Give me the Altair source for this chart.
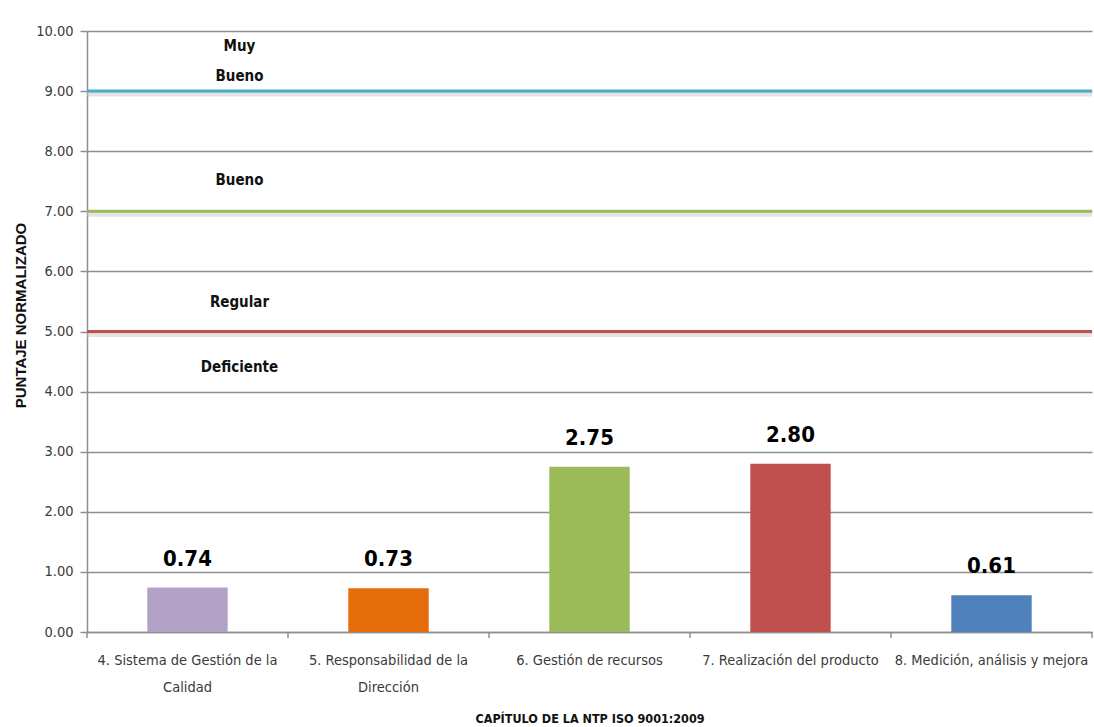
import altair as alt
import pandas as pd

# Chapters of NTP ISO 9001:2009 and their normalized scores
chapters = [
    "4. Sistema de Gestión de la\nCalidad",
    "5. Responsabilidad de la\nDirección",
    "6. Gestión de recursos",
    "7. Realización del producto",
    "8. Medición, análisis y mejora",
]
scores = [0.74, 0.73, 2.75, 2.80, 0.61]
bar_colors = ["#B3A2C7", "#E46C0A", "#9BBB59", "#C0504D", "#4F81BD"]

# Rating thresholds drawn as horizontal lines
level_values = [9.0, 7.0, 5.0]
level_colors = ["#4BACC6", "#9BBB59", "#C0504D"]

# Rating band names and the score at which each name (first line) sits
band_names = ["Muy\nBueno", "Bueno", "Regular", "Deficiente"]
band_label_y = [9.75, 7.52, 5.49, 4.41]

W, H = 1005, 601
FONT = "DejaVu Sans Condensed, Roboto, sans-serif"

bars_df = pd.DataFrame({"capitulo": chapters, "puntaje": scores})
levels_df = pd.DataFrame({"nivel": level_values, "color": level_colors})
bands_df = pd.DataFrame({"nombre": band_names, "y": band_label_y})

x_enc = alt.X(
    "capitulo:N",
    sort=None,
    title="CAPÍTULO  DE LA NTP ISO 9001:2009",
    scale=alt.Scale(paddingInner=0, paddingOuter=0),
    axis=alt.Axis(
        labelAngle=0,
        labelExpr="split(datum.label, '\\n')",
        labelLineHeight=27,
        labelPadding=21,
        labelFontSize=14.5,
        labelFont=FONT,
        labelColor="#3a3a3a",
        labelLimit=300,
        ticks=False,
        domainColor="#8f8f8f",
        domainWidth=1.5,
        titleFont=FONT,
        titleFontSize=12.5,
        titleFontWeight="bold",
        titleColor="#111111",
        titleY=86,
        titleBaseline="middle",
    ),
)

y_enc = alt.Y(
    "puntaje:Q",
    title="PUNTAJE NORMALIZADO",
    scale=alt.Scale(domain=[0, 10], nice=False),
    axis=alt.Axis(
        values=list(range(0, 11)),
        format=".2f",
        labelFont=FONT,
        labelFontSize=14.5,
        labelColor="#3a3a3a",
        labelPadding=7,
        tickSize=7,
        tickColor="#8f8f8f",
        tickWidth=1.5,
        domainColor="#8f8f8f",
        domainWidth=1.5,
        grid=True,
        gridColor="#8f8f8f",
        gridWidth=1.5,
        titleFont="Liberation Sans, Arial, sans-serif",
        titleFontSize=15,
        titleFontWeight="bold",
        titleColor="#111111",
        titleX=-67,
        titleY=284,
        titleBaseline="middle",
    ),
)

bars = alt.Chart(bars_df).mark_bar(width=alt.RelativeBandSize(0.4)).encode(
    x=x_enc,
    y=y_enc,
    color=alt.Color(
        "capitulo:N",
        sort=None,
        scale=alt.Scale(domain=chapters, range=bar_colors),
        legend=None,
    ),
)

bar_labels = alt.Chart(bars_df).mark_text(
    font=FONT, fontSize=22, fontWeight="bold", baseline="bottom", dy=-17, color="#000000"
).encode(
    x=alt.X("capitulo:N", sort=None),
    y="puntaje:Q",
    text=alt.Text("puntaje:Q", format=".2f"),
)

level_shadow = alt.Chart(levels_df).mark_rule(
    strokeWidth=5, color="#c8c8c8", opacity=0.5, yOffset=3
).encode(y="nivel:Q")

level_lines = alt.Chart(levels_df).mark_rule(strokeWidth=3).encode(
    y="nivel:Q",
    color=alt.Color("color:N", scale=None),
)

band_labels = (
    alt.Chart(bands_df)
    .transform_calculate(lineas="split(datum.nombre, '\\n')")
    .mark_text(
        font=FONT, fontSize=15, fontWeight="bold", color="#111111",
        lineHeight=30, dx=52, baseline="middle",
    )
    .encode(
        x=alt.datum(chapters[0]),
        y=alt.Y("y:Q"),
        text=alt.Text("lineas:N"),
    )
)

# Tick marks on the category axis at the edges of each band
edge_ticks = alt.Chart(bars_df).mark_rule(color="#8f8f8f", strokeWidth=1.5).encode(
    x=alt.X("capitulo:N", sort=None, bandPosition=0),
    y=alt.value(H),
    y2=alt.value(H + 6),
)
last_tick = alt.Chart(bars_df.head(1)).mark_rule(color="#8f8f8f", strokeWidth=1.5).encode(
    x=alt.value(W),
    y=alt.value(H),
    y2=alt.value(H + 6),
)

chart = (
    alt.layer(bars, level_shadow, level_lines, bar_labels, band_labels, edge_ticks, last_tick)
    .properties(
        width=W,
        height=H,
        autosize=alt.AutoSizeParams(type="none"),
        padding={"left": 87, "top": 31, "right": 2, "bottom": 95},
        background="white",
    )
    .configure_view(stroke=None)
)

chart.save("out.html", embed_options={"renderer": "svg", "actions": False})
